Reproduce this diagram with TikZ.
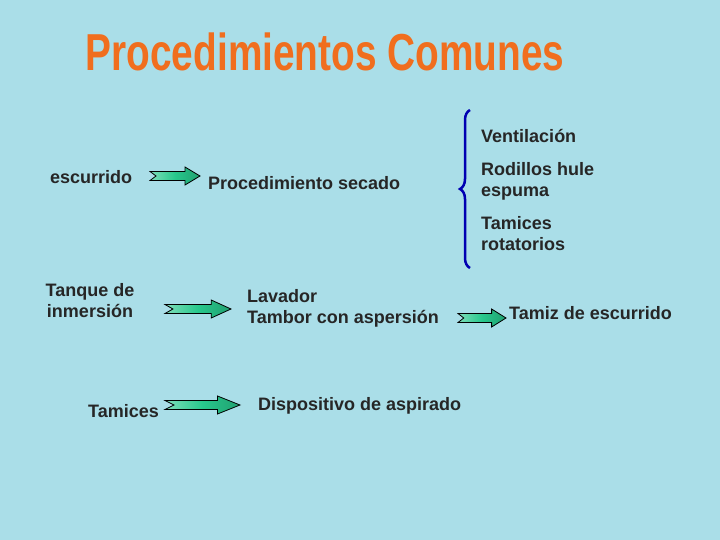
\documentclass[tikz,border=0pt]{standalone}
\usepackage{fontspec}
\setmainfont{Liberation Sans}
\usetikzlibrary{decorations.pathreplacing}
\definecolor{bg}{RGB}{170,222,232}
\definecolor{ag}{RGB}{40,200,140}
\definecolor{tor}{RGB}{240,110,30}
\tikzset{
  lbl/.style={font=\bfseries\fontsize{18}{21}\selectfont, text=black!85, align=left, inner sep=0pt},
  lblc/.style={lbl, align=center},
  ttl/.style={font=\bfseries\fontsize{40}{40}\selectfont, xscale=0.97, yscale=1.3},
  blockarrow/.pic={\draw[black, line width=0.8pt, left color=ag!60!white, right color=ag!80!black, middle color=ag]
     (0,-4.5) -- (0.7,-4.5) -- (0.7,-9) -- (1,0) -- (0.7,9) -- (0.7,4.5) -- (0,4.5) -- (0.12,0) -- cycle;}
}
\begin{document}
\begin{tikzpicture}[x=1pt,y=-1pt]
\fill[bg] (0,0) rectangle (720,540);
\useasboundingbox (0,0) rectangle (720,540);
\node[ttl, text=tor] (title) at (325,52) {Procedimientos Comunes};
\node[lbl, anchor=west] (esc) at (50,177) {escurrido};
\node[lbl, anchor=west] (proc) at (208,183) {Procedimiento secado};
\node[lbl, anchor=west] (vent) at (481,136) {Ventilación};
\node[lbl, anchor=west] (rod) at (481,181) {Rodillos hule\\espuma};
\node[lbl, anchor=west] (tam1) at (481,234) {Tamices\\rotatorios};
\node[lblc] (tanq) at (90,301) {Tanque de\\inmersión};
\node[lbl, anchor=west] (lav) at (247,308) {Lavador\\Tambor con aspersión};
\node[lbl, anchor=west] (tamz) at (509,313) {Tamiz de escurrido};
\node[lbl, anchor=west] (tam) at (88,411) {Tamices};
\node[lbl, anchor=west] (disp) at (258,406) {Dispositivo de aspirado};
\coordinate (b1) at (470,110); \coordinate (b2) at (470,268);
\draw[blue!70!black, line width=2.5pt, decorate, decoration={brace, amplitude=10pt, mirror}] (b1) -- (b2);
\pic[xscale=50] at (150,176) {blockarrow};
\pic[xscale=66] at (165,309) {blockarrow};
\pic[xscale=75] at (165,405) {blockarrow};
\pic[xscale=48] at (458,318) {blockarrow};
\end{tikzpicture}
\end{document}
